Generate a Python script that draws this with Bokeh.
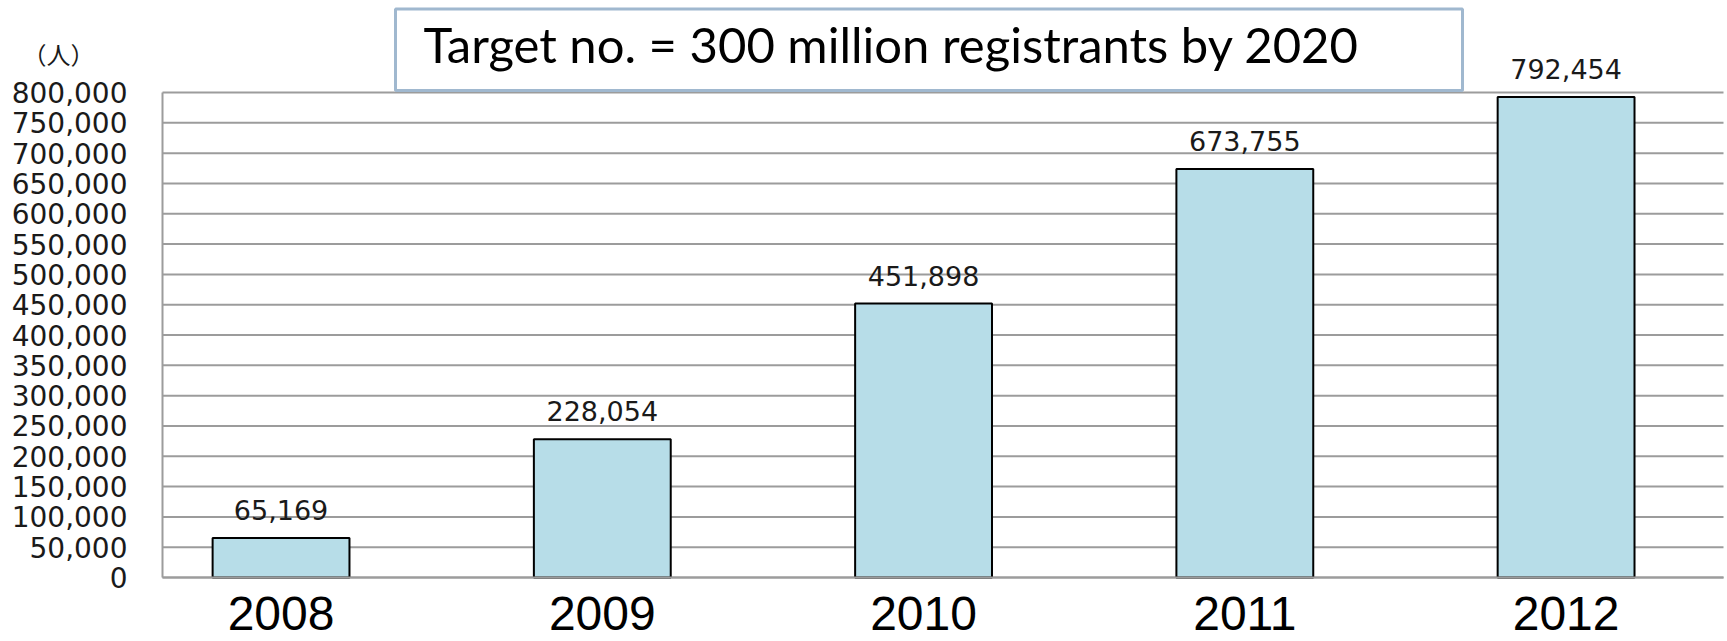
from bokeh.plotting import figure
from bokeh.models import (Range1d, FixedTicker, BoxAnnotation, Label,
                          ColumnDataSource, NumeralTickFormatter)
from bokeh.embed import file_html
from bokeh.resources import INLINE
from bokeh.core.properties import value

# ---- data ----
years = ["2008", "2009", "2010", "2011", "2012"]
registrants = [65169, 228054, 451898, 673755, 792454]
y_ticks = list(range(0, 800001, 50000))
unit_label = "（人）"
target_text = "Target no. = 300 million registrants by 2020"

x_idx = list(range(len(years)))
src = ColumnDataSource(dict(
    x=x_idx,
    top=registrants,
    label=[f"{v:,}" for v in registrants],
))

# ---- layout constants (pixels of the reference -> data extents) ----
X_AX_START, X_AX_END = -0.369, 4.49        # plot-area extent on the x axis
Y_AX_TOP = y_ticks[-1]
PX_X = 321.26                                # px per category
PX_Y = 800000 / 485                          # data units per px
W, H = 1727, 641
AX_LEFT_PX, AX_BOTTOM_PX = 162, 577

x0 = X_AX_START - AX_LEFT_PX / PX_X
x1 = x0 + W / PX_X
y1 = AX_BOTTOM_PX * PX_Y
y0 = y1 - H * PX_Y

GRID = "#9c9c9c"

p = figure(width=W, height=H, output_backend="svg", toolbar_location=None,
           x_range=Range1d(x0, x1), y_range=Range1d(y0, y1),
           min_border=0)
p.outline_line_color = None
p.background_fill_color = "white"
p.border_fill_color = "white"
p.xgrid.visible = False
p.ygrid.visible = False

# horizontal gridlines, limited to the plot area
p.segment(x0=[X_AX_START] * len(y_ticks), x1=[X_AX_END] * len(y_ticks),
          y0=y_ticks, y1=y_ticks, line_color=GRID, line_width=2)

# y axis
yax = p.yaxis[0]
yax.fixed_location = X_AX_START
yax.ticker = FixedTicker(ticks=y_ticks)
yax.formatter = NumeralTickFormatter(format="0,0")
yax.bounds = (0, Y_AX_TOP)
yax.axis_line_color = GRID
yax.axis_line_width = 2
yax.major_tick_out = 0
yax.major_tick_in = 0
yax.minor_tick_out = 0
yax.minor_tick_in = 0
yax.major_label_standoff = 35
yax.major_label_text_font = "DejaVu Sans"
yax.major_label_text_font_size = "28px"
yax.major_label_text_color = "#1a1a1a"

# x axis
xax = p.xaxis[0]
xax.fixed_location = 0
xax.ticker = FixedTicker(ticks=x_idx)
xax.major_label_overrides = {i: y for i, y in zip(x_idx, years)}
xax.bounds = (X_AX_START, X_AX_END)
xax.axis_line_color = GRID
xax.axis_line_width = 2
xax.major_tick_out = 0
xax.major_tick_in = 0
xax.minor_tick_out = 0
xax.minor_tick_in = 0
xax.major_label_standoff = 19
xax.major_label_text_font = "Liberation Sans"
xax.major_label_text_font_size = "48px"
xax.major_label_text_color = "black"

# bars
p.vbar(x="x", top="top", width=0.426, source=src,
       fill_color="#b7dde8", line_color="black", line_width=2)

# value labels
p.text(x="x", y="top", text="label", source=src,
       text_align="center", text_baseline="middle", y_offset=-28,
       text_font=value("DejaVu Sans"), text_font_size="27px",
       text_color="#1a1a1a")

# target box
def px_to_x(px):
    return x0 + px / PX_X

def px_to_y(py):
    return y1 - py * PX_Y

box = BoxAnnotation(left=px_to_x(395), right=px_to_x(1462),
                    bottom=px_to_y(90), top=px_to_y(8.5),
                    fill_color="white", fill_alpha=1.0,
                    line_color="#a0b8cf", line_alpha=1.0, line_width=3)
p.add_layout(box)
p.add_layout(Label(x=px_to_x(423), y=px_to_y(43), text=target_text,
                   text_font="Lato", text_font_size="49px",
                   text_baseline="alphabetic", text_align="left",
                   text_color="black"))

# unit label
p.add_layout(Label(x=px_to_x(58), y=px_to_y(53), text=unit_label,
                   text_font="Noto Sans CJK JP", text_font_size="24px",
                   text_align="center", text_baseline="middle",
                   text_color="#1a1a1a"))

open("out.html", "w").write(file_html(p, INLINE))
